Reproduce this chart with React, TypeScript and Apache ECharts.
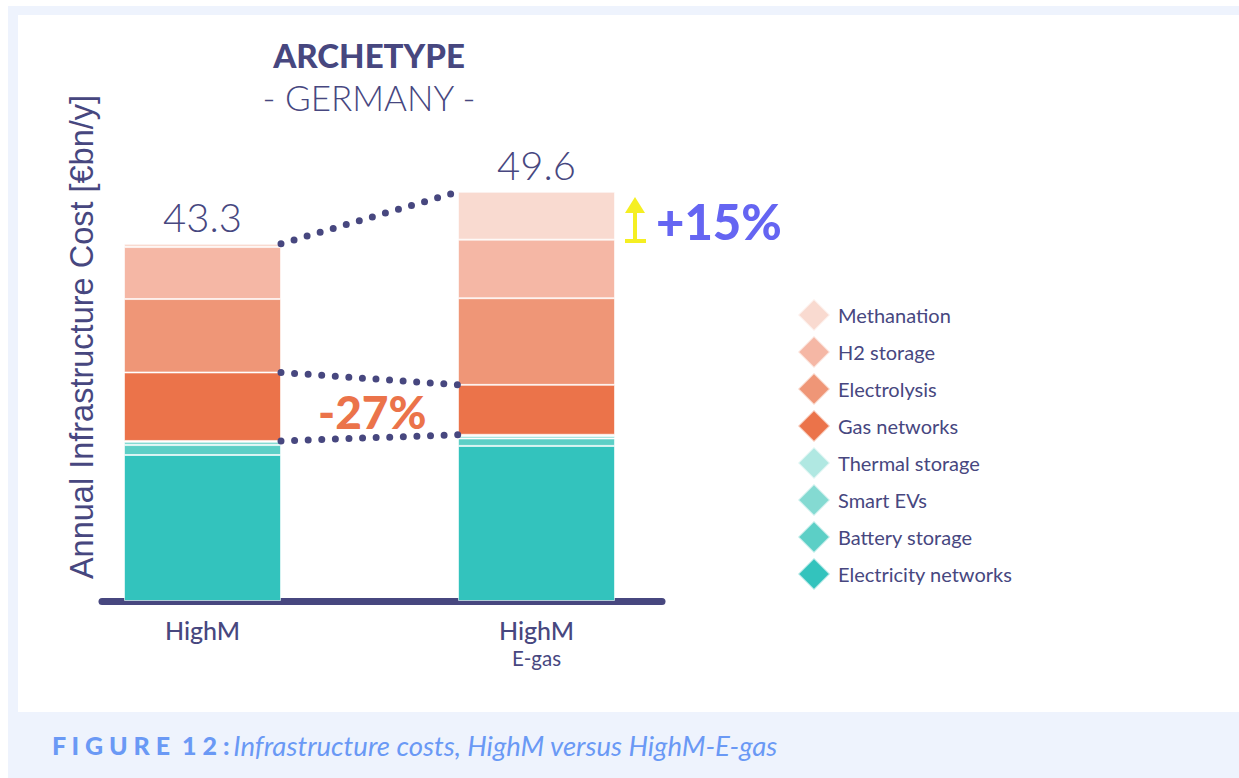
import React, { useEffect, useRef } from "react";
import * as echarts from "echarts";

// ---- data ----
const categories = ["HighM", "HighM\nE-gas"];
const legendOrder = [
  "Methanation",
  "H2 storage",
  "Electrolysis",
  "Gas networks",
  "Thermal storage",
  "Smart EVs",
  "Battery storage",
  "Electricity networks",
];
const electricityNetworks = [17.7, 18.8];
const batteryStorage = [1.2, 0.9];
const smartEVs = [0.4, 0.3];
const thermalStorage = [0.1, 0.15];
const gasNetworks = [8.3, 6.05];
const electrolysis = [8.9, 10.5];
const h2Storage = [6.3, 7.1];
const methanation = [0.4, 5.8];
const totals = [43.3, 49.6];

const NAVY = "#47477f";
const FONT = 'Lato, "Noto Sans", sans-serif';
const BAR_W = 157;

const stackOrder: [string, number[], string][] = [
  ["Electricity networks", electricityNetworks, "#33c3bd"],
  ["Battery storage", batteryStorage, "#5ccfc6"],
  ["Smart EVs", smartEVs, "#84dad2"],
  ["Thermal storage", thermalStorage, "#b0e8e2"],
  ["Gas networks", gasNetworks, "#eb734a"],
  ["Electrolysis", electrolysis, "#ef9677"],
  ["H2 storage", h2Storage, "#f5b7a5"],
  ["Methanation", methanation, "#f9dad0"],
];

function cum(upTo: number, idx: number) {
  let s = 0;
  for (let i = 0; i <= upTo; i++) s += stackOrder[i][1][idx];
  return s;
}

export default function App() {
  const ref = useRef<HTMLDivElement>(null);
  useEffect(() => {
    if (!ref.current) return;
    const chart = echarts.init(ref.current, null, { renderer: "svg" });

    const gasIdx = 4;
    const connectors = [
      [0, totals[0], 1, totals[1]],
      [0, cum(gasIdx, 0), 1, cum(gasIdx, 1)],
      [0, cum(gasIdx - 1, 0), 1, cum(gasIdx - 1, 1)],
    ];
    const totalChange = Math.round((totals[1] / totals[0] - 1) * 100);
    const gasChange = Math.round((gasNetworks[1] / gasNetworks[0] - 1) * 100);

    const barSeries = stackOrder.map(([name, vals, color], si) => ({
      type: "bar",
      name,
      stack: "total",
      barWidth: BAR_W,
      xAxisIndex: 0,
      yAxisIndex: 0,
      data: vals,
      itemStyle: { color, borderColor: "rgba(255,255,255,0.6)", borderWidth: 1 },
      label:
        si === stackOrder.length - 1
          ? {
              show: true,
              position: "top",
              distance: 7,
              formatter: (p: any) => totals[p.dataIndex].toFixed(1),
              fontFamily: FONT,
              fontWeight: 300,
              fontSize: 40,
              color: NAVY,
            }
          : { show: false },
      z: 2,
    }));

    chart.setOption({
      animation: false,
      backgroundColor: "#ffffff",
      grid: [
        { left: 35.5, width: 668, top: 106, height: 495 },
        { left: 102, width: 560, top: 106, height: 495 },
      ],
      xAxis: [
        {
          type: "category",
          gridIndex: 0,
          data: categories,
          axisLine: { show: false },
          axisTick: { show: false },
          axisLabel: {
            margin: 15,
            formatter: (v: string) => {
              const parts = v.split("\n");
              return parts.length > 1 ? `{a|${parts[0]}}\n{b|${parts[1]}}` : `{a|${parts[0]}}`;
            },
            rich: {
              a: { fontFamily: FONT, fontSize: 25, lineHeight: 28, color: NAVY, fontWeight: 500 },
              b: { fontFamily: FONT, fontSize: 20.5, lineHeight: 27, color: NAVY },
            },
          },
        },
        {
          type: "value",
          gridIndex: 1,
          min: 0,
          max: 1,
          offset: 3,
          splitLine: { show: false },
          axisTick: { show: false },
          axisLabel: { show: false },
          axisLine: { show: true, lineStyle: { color: NAVY, width: 7, cap: "round" } },
        },
      ],
      yAxis: [
        { type: "value", gridIndex: 0, min: 0, max: 60, show: false },
        { type: "value", gridIndex: 1, min: 0, max: 60, show: false },
      ],
      legend: {
        orient: "vertical",
        left: 797,
        top: 298,
        padding: 0,
        itemWidth: 32,
        itemHeight: 32,
        itemGap: 3,
        icon: "diamond",
        selectedMode: false,
        data: legendOrder,
        textStyle: { fontFamily: FONT, fontSize: 20, color: NAVY, padding: [0, 0, 0, 3] },
      },
      graphic: [
        { type: "rect", z: -10, silent: true, shape: { x: 8, y: 6, width: 1231, height: 772 }, style: { fill: "#eef3fd" } },
        { type: "rect", z: -9, silent: true, shape: { x: 18, y: 15, width: 1221, height: 697 }, style: { fill: "#ffffff" } },
        {
          type: "text", x: 369, y: 55,
          style: { text: "ARCHETYPE", fontFamily: FONT, fontWeight: 900, fontSize: 33, fill: NAVY, align: "center", verticalAlign: "middle" },
        },
        {
          type: "text", x: 369, y: 97,
          style: { text: "- GERMANY -", fontFamily: FONT, fontWeight: 300, fontSize: 35, fill: NAVY, align: "center", verticalAlign: "middle" },
        },
        {
          type: "text", x: 82, y: 337, rotation: Math.PI / 2,
          style: { text: "Annual Infrastructure Cost [€bn/y]", fontFamily: '"Liberation Sans", Arial, sans-serif', fontSize: 32.5, fill: NAVY, align: "center", verticalAlign: "middle" },
        },
        {
          type: "text", x: 656, y: 221,
          style: { text: `+${totalChange}%`, fontFamily: FONT, fontWeight: 900, fontSize: 49, fill: "#6565f2", align: "left", verticalAlign: "middle" },
        },
        {
          type: "text", x: 318, y: 411,
          style: { text: `${gasChange}%`, fontFamily: FONT, fontWeight: 900, fontSize: 46, fill: "#eb734a", align: "left", verticalAlign: "middle" },
        },
        { type: "polygon", shape: { points: [[625, 213], [635, 197], [645, 213]] }, style: { fill: "#f5ef22" } },
        { type: "rect", shape: { x: 633, y: 212, width: 4, height: 29 }, style: { fill: "#f5ef22" } },
        { type: "rect", shape: { x: 625, y: 239, width: 21, height: 4 }, style: { fill: "#f5ef22" } },
        {
          type: "text", x: 52, y: 745,
          style: {
            text: "{a|F I G U R E  1 2 :} {b|Infrastructure costs, HighM versus HighM-E-gas}",
            verticalAlign: "middle",
            rich: {
              a: { fontFamily: FONT, fontWeight: 900, fontSize: 25, fill: "#6a99f5", color: "#6a99f5" },
              b: { fontFamily: FONT, fontStyle: "italic", fontSize: 27.5, fill: "#6a99f5", color: "#6a99f5" },
            },
          },
        },
      ],
      series: [
        ...barSeries,
        {
          type: "custom",
          name: "connectors",
          coordinateSystem: "cartesian2d",
          xAxisIndex: 0,
          yAxisIndex: 0,
          encode: { x: [0, 2], y: [1, 3] },
          z: 5,
          data: connectors,
          renderItem: (_params: any, api: any) => {
            const p0 = api.coord([api.value(0), api.value(1)]);
            const p1 = api.coord([api.value(2), api.value(3)]);
            return {
              type: "line",
              shape: { x1: p0[0] + BAR_W / 2, y1: p0[1], x2: p1[0] - BAR_W / 2, y2: p1[1] },
              style: { stroke: NAVY, lineWidth: 7, lineDash: [0, 13.6], lineCap: "round", fill: null },
            };
          },
        },
      ],
    });
    return () => chart.dispose();
  }, []);
  return <div ref={ref} style={{ position: "absolute", left: 0, top: 0, width: 1239, height: 778 }} />;
}
